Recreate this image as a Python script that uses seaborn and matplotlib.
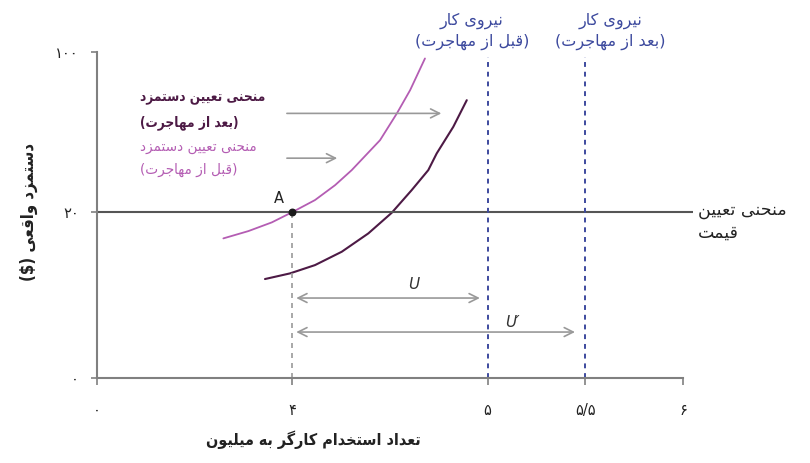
import matplotlib
matplotlib.use("Agg")
import matplotlib.pyplot as plt
import seaborn as sns
import pandas as pd

# --- data (schematic units) ---
x_ticks = [3.0, 4.0, 5.0, 5.5, 6.0]
x_tick_labels = ["۰", "۴", "۵", "۵/۵", "۶"]
y_ticks = [0.0, 20.0, 39.3]
y_tick_labels = ["۰", "۲۰", "۱۰۰"]

# wage-setting curve before immigration
before_x = [3.647, 3.775, 3.895, 4.0, 4.116, 4.219, 4.304, 4.449, 4.535, 4.603, 4.679]
before_y = [16.83, 17.71, 18.76, 20.0, 21.45, 23.25, 25.06, 28.67, 31.89, 34.70, 38.52]
# wage-setting curve after immigration
after_x = [3.860, 3.988, 4.116, 4.253, 4.389, 4.509, 4.611, 4.696, 4.739, 4.824, 4.893]
after_y = [11.93, 12.61, 13.61, 15.22, 17.43, 19.92, 22.65, 25.06, 27.07, 30.28, 33.49]

price_wage = 20.0
labour_force = [5.0, 5.5]
labour_top = 38.7
point_a = (4.0, 20.0)

# --- simple arabic shaping for matplotlib ---
FORMS = {
    "ا": ("\uFE8D", "\uFE8E", None, None),
    "ب": ("\uFE8F", "\uFE90", "\uFE91", "\uFE92"),
    "ت": ("\uFE95", "\uFE96", "\uFE97", "\uFE98"),
    "ج": ("\uFE9D", "\uFE9E", "\uFE9F", "\uFEA0"),
    "ح": ("\uFEA1", "\uFEA2", "\uFEA3", "\uFEA4"),
    "خ": ("\uFEA5", "\uFEA6", "\uFEA7", "\uFEA8"),
    "د": ("\uFEA9", "\uFEAA", None, None),
    "ر": ("\uFEAD", "\uFEAE", None, None),
    "ز": ("\uFEAF", "\uFEB0", None, None),
    "س": ("\uFEB1", "\uFEB2", "\uFEB3", "\uFEB4"),
    "ع": ("\uFEC9", "\uFECA", "\uFECB", "\uFECC"),
    "ق": ("\uFED5", "\uFED6", "\uFED7", "\uFED8"),
    "ل": ("\uFEDD", "\uFEDE", "\uFEDF", "\uFEE0"),
    "م": ("\uFEE1", "\uFEE2", "\uFEE3", "\uFEE4"),
    "ن": ("\uFEE5", "\uFEE6", "\uFEE7", "\uFEE8"),
    "ه": ("\uFEE9", "\uFEEA", "\uFEEB", "\uFEEC"),
    "و": ("\uFEED", "\uFEEE", None, None),
    "ک": ("\uFB8E", "\uFB8F", "\uFB90", "\uFB91"),
    "گ": ("\uFB92", "\uFB93", "\uFB94", "\uFB95"),
    "ی": ("\uFBFC", "\uFBFD", "\uFBFE", "\uFBFF"),
}


def fa(text):
    out = []
    for i, c in enumerate(text):
        if c not in FORMS:
            out.append(c)
            continue
        prev = text[i - 1] if i > 0 else None
        nxt = text[i + 1] if i + 1 < len(text) else None
        jp = prev in FORMS and FORMS[prev][2] is not None
        jn = nxt in FORMS and FORMS[c][2] is not None
        iso, fin, ini, med = FORMS[c]
        if jp and jn:
            out.append(med)
        elif jp:
            out.append(fin)
        elif jn:
            out.append(ini)
        else:
            out.append(iso)
    vis = "".join(reversed(out))
    return vis.translate(str.maketrans("()", ")("))


sns.set_theme(style="white")
plt.rcParams["font.family"] = ["DejaVu Sans"]

pink = "#b45db3"
plum = "#4d1a45"
blue = "#3d4a9e"
grey = "#808080"

fig = plt.figure(figsize=(8.1, 4.63), dpi=100)
ax = fig.add_axes([97 / 810, 85 / 463, 586 / 810, 326 / 463])

df_before = pd.DataFrame({"x": before_x, "y": before_y})
df_after = pd.DataFrame({"x": after_x, "y": after_y})
sns.lineplot(data=df_before, x="x", y="y", sort=False, color=pink, lw=1.3, ax=ax)
sns.lineplot(data=df_after, x="x", y="y", sort=False, color=plum, lw=1.5, ax=ax)

# price-setting curve
ax.hlines(price_wage, x_ticks[0], 6.05, color="#555555", lw=1.5, clip_on=False)
# labour force lines
ax.vlines(labour_force, 0, labour_top, color=blue, lw=1.4, ls=(0, (2.5, 2.5)), clip_on=False)
# drop line from A
ax.vlines(point_a[0], 0, point_a[1], color="#999999", lw=1.2, ls=(0, (3, 3)))
ax.scatter([point_a[0]], [point_a[1]], s=22, color="#1a1a1a", zorder=5)
ax.text(3.93, 21.6, "A", fontsize=10.5, ha="center", va="center", color="#222222")

arrow_kw = dict(arrowstyle="->", color="#999999", lw=1.2, mutation_scale=16)
ax.annotate("", xy=(4.777, 31.9), xytext=(3.958, 31.9), arrowprops=arrow_kw)
ax.annotate("", xy=(4.244, 26.5), xytext=(3.958, 26.5), arrowprops=arrow_kw)
darrow_kw = dict(arrowstyle="<->", color="#999999", lw=1.2, mutation_scale=16,
                 shrinkA=0, shrinkB=0)
ax.annotate("", xy=(4.96, 9.64), xytext=(4.02, 9.64), arrowprops=darrow_kw)
ax.annotate("", xy=(5.447, 5.54), xytext=(4.02, 5.54), arrowprops=darrow_kw)
ax.text(4.623, 11.3, "U", fontsize=11, style="italic", ha="center", va="center", color="#333333")
ax.text(5.125, 6.7, "U′", fontsize=11, style="italic", ha="center", va="center", color="#333333")

# curve labels
dark_kw = dict(color=plum, fontsize=9.8, fontweight="bold", fontstretch="condensed",
               ha="left", va="center")
ax.text(3.22, 33.7, fa("منحنی تعیین دستمزد"), **dark_kw)
ax.text(3.22, 30.8, fa("(بعد از مهاجرت)"), **dark_kw)
pink_kw = dict(color=pink, fontsize=9.8, ha="left", va="center")
ax.text(3.22, 27.8, fa("منحنی تعیین دستمزد"), **pink_kw)
ax.text(3.22, 25.1, fa("(قبل از مهاجرت)"), **pink_kw)

top_kw = dict(color=blue, fontsize=11.5, ha="center", va="center", clip_on=False)
ax.text(4.92, 43.1, fa("نیروی کار"), **top_kw)
ax.text(4.92, 40.5, fa("(قبل از مهاجرت)"), **top_kw)
ax.text(5.627, 43.1, fa("نیروی کار"), **top_kw)
ax.text(5.627, 40.5, fa("(بعد از مهاجرت)"), **top_kw)

ax.text(6.077, 20.3, fa("منحنی تعیین"), color="#222222", fontsize=12.5, ha="left", va="center", clip_on=False)
ax.text(6.077, 17.5, fa("قیمت"), color="#222222", fontsize=12.5, ha="left", va="center", clip_on=False)

ax.set_xlim(x_ticks[0], x_ticks[-1])
ax.set_ylim(y_ticks[0], y_ticks[-1])
ax.set_xticks(x_ticks)
ax.set_xticklabels(x_tick_labels)
ax.set_yticks(y_ticks)
ax.set_yticklabels(y_tick_labels)
ax.tick_params(axis="x", direction="out", length=5, width=1.2, color=grey, pad=13,
               labelsize=10.5, labelcolor="#222222", bottom=True)
ax.tick_params(axis="y", direction="out", length=4, width=1.2, color=grey, pad=9,
               labelsize=10.5, labelcolor="#222222", left=True)

sns.despine(ax=ax)
for side in ("left", "bottom"):
    ax.spines[side].set_color(grey)
    ax.spines[side].set_linewidth(1.5)

ax.set_xlabel(fa("تعداد استخدام کارگر به میلیون"), fontsize=11.5, fontweight="bold",
              fontstretch="condensed", color="#222222")
ax.xaxis.set_label_coords(0.3686, -0.16)
ax.set_ylabel(fa("دستمزد واقعی ($)"), fontsize=12, fontweight="bold",
              fontstretch="condensed", color="#222222")
ax.yaxis.set_label_coords(-0.10, 0.51)

fig.savefig("out.png", dpi=100)
